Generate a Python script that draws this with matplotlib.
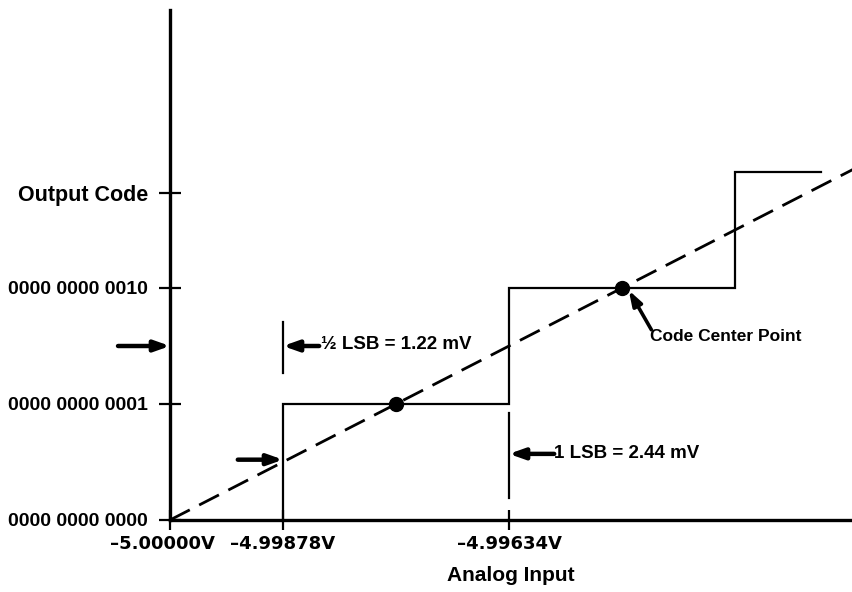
"""Ideal ADC transfer function near zero scale: staircase, code centres, LSB dimensions."""
import matplotlib
matplotlib.use("Agg")
import matplotlib.pyplot as plt
from matplotlib.transforms import ScaledTranslation

plt.rcParams.update({
    "font.family": ["Liberation Sans", "DejaVu Sans"], "font.weight": "bold",
    "axes.spines.top": False, "axes.spines.right": False,
})

# ---- data (x in LSB from -5 V, y in output code) ----
transitions = [0.5, 1.5, 2.5]          # code transition points
codes = [0, 1, 2, 3]
step_end = 2.88                        # where the top step stops
centres_x = [1, 2]; centres_y = [1, 2] # code centre points
ideal_x = [0, 3.05]; ideal_y = [0, 3.05]
xtick_pos = [0, 0.5, 1.5]
xtick_lbl = ["–5.00000V", "–4.99878V", "–4.99634V"]
ytick_pos = [0, 1, 2]
ytick_lbl = ["0000 0000 0000", "0000 0000 0001", "0000 0000 0010"]

# staircase vertices
sx, sy = [], []
for t, c0, c1 in zip(transitions, codes[:-1], codes[1:]):
    sx += [t, t]; sy += [c0, c1]
sx.append(step_end); sy.append(codes[-1])

PX, PY = 226, 116   # pixels per LSB / per code
fig = plt.figure(figsize=(8.52, 5.92), dpi=100)
ax = fig.add_axes([170/852, 72/592, 682/852, 510/592])
ax.set(xlim=(0, 682/PX), ylim=(0, 510/PY))

ax.plot(sx, sy, color="k", lw=1.6, solid_joinstyle="miter", zorder=3)
ax.plot(ideal_x, ideal_y, color="k", lw=2.0, dashes=(8, 3.8), zorder=2, clip_on=False)
ax.plot(centres_x, centres_y, "o", color="k", ms=10, zorder=4)

for s in ("left", "bottom"):
    ax.spines[s].set_linewidth(2.4)
ax.set_xticks(xtick_pos, xtick_lbl, fontsize=13, fontweight="bold", family="DejaVu Sans")
ax.set_yticks(ytick_pos + [2.82], ytick_lbl + ["Output Code"], fontsize=14, fontweight="bold")
ax.get_yticklabels()[-1].set_fontsize(15.5)
ax.tick_params(axis="y", direction="inout", length=16, width=1.6, pad=8)
ax.tick_params(axis="x", direction="inout", length=14, width=1.6, pad=4)
ax.set_xlabel("Analog Input", fontsize=15, fontweight="bold", labelpad=9)
# first x label sits a little left of its tick in the original
lbl0 = ax.get_xticklabels()[0]
lbl0.set_transform(lbl0.get_transform() + ScaledTranslation(-8/100, 0, fig.dpi_scale_trans))

arr = dict(arrowstyle="-|>,head_length=0.9,head_width=0.32", color="k", lw=3.2, shrinkA=0, shrinkB=0)
# 1/2 LSB markers
ax.annotate("", xy=(0, 1.5), xytext=(-0.23, 1.5), arrowprops=arr, annotation_clip=False)
ax.annotate("", xy=(0.5, 0.52), xytext=(0.3, 0.52), arrowprops=arr)
ax.plot([0.5, 0.5], [1.27, 1.71], color="k", lw=1.6)
ax.annotate("", xy=(0.5, 1.5), xytext=(0.66, 1.5), arrowprops=arr)
ax.text(0.67, 1.51, "½ LSB = 1.22 mV", fontsize=13.5, fontweight="bold", va="center")
# 1 LSB
ax.plot([1.5, 1.5], [0.19, 0.92], color="k", lw=1.6)
ax.annotate("", xy=(1.5, 0.57), xytext=(1.7, 0.57), arrowprops=arr)
ax.text(1.7, 0.575, "1 LSB = 2.44 mV", fontsize=13.5, fontweight="bold", va="center")
# code centre point
ax.annotate("", xy=(2.03, 1.98), xytext=(2.13, 1.64), arrowprops=dict(
    arrowstyle="-|>,head_length=0.9,head_width=0.3", color="k", lw=2.6, shrinkA=0, shrinkB=0))
ax.text(2.125, 1.58, "Code Center Point", fontsize=12.5, fontweight="bold", va="center")

fig.savefig("out.png", dpi=100)
